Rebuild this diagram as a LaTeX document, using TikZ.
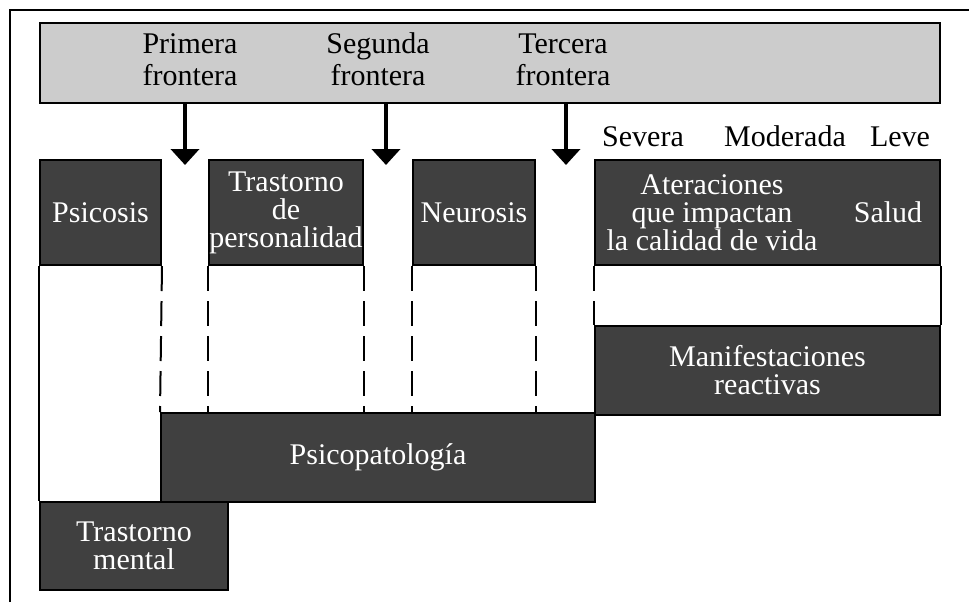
\documentclass[tikz,border=0pt]{standalone}
\usepackage{fontspec}
\setmainfont{Liberation Serif}
\usepackage{tikz}
\usetikzlibrary{arrows.meta}
\definecolor{darkfill}{HTML}{404040}
\definecolor{lightfill}{HTML}{CCCCCC}
\tikzstyle{darkbox} = [draw=black, fill=darkfill, text=white, line width=1pt,
    rectangle, align=center, inner sep=0pt, font=\fontsize{15}{14}\selectfont]
\tikzstyle{headbox} = [draw=black, fill=lightfill, line width=1pt,
    rectangle, inner sep=0pt]
\tikzstyle{headtext} = [align=center, inner sep=0pt, font=\fontsize{15}{16}\selectfont]
\tikzstyle{gradetext} = [inner sep=0pt, anchor=base, font=\fontsize{15}{16}\selectfont]
\tikzstyle{boxtext} = [text=white, align=center, inner sep=0pt, font=\fontsize{15}{14}\selectfont]
\tikzstyle{border} = [line width=1pt, dash pattern=on 12.5pt off 5pt]
\tikzstyle{solidline} = [line width=1pt]
\tikzstyle{downarrow} = [line width=2pt, -{Triangle[width=14pt,length=8pt]}]

\begin{document}
\begin{tikzpicture}[x=0.5pt, y=-0.5pt]
    \useasboundingbox (0,0) rectangle (969,602);
    \draw[line width=1pt] (10,602) -- (10,10) -- (969,10);

    % top band
    \node[headbox, minimum width=450pt, minimum height=40pt] (top) at (490,63) {};
    \node[headtext] (primera) at (190,60) {Primera\\frontera};
    \node[headtext] (segunda) at (378,59) {Segunda\\frontera};
    \node[headtext] (tercera) at (563,60) {Tercera\\frontera};
    \coordinate (f1) at (185,165);
    \coordinate (f2) at (386,165);
    \coordinate (f3) at (566,165);
    \draw[downarrow] (top.south -| f1) -- (f1);
    \draw[downarrow] (top.south -| f2) -- (f2);
    \draw[downarrow] (top.south -| f3) -- (f3);

    % grades
    \node[gradetext] (severa) at (643,146) {Severa};
    \node[gradetext] (moderada) at (785,146) {Moderada};
    \node[gradetext] (leve) at (900,146) {Leve};

    % upper row
    \node[darkbox, minimum width=60.5pt, minimum height=52.5pt] (psicosis) at (100.5,212.5) {Psicosis};
    \node[darkbox, minimum width=77pt, minimum height=52.5pt] (personalidad) at (286,212.5) {Trastorno\\de\\personalidad};
    \node[darkbox, minimum width=61pt, minimum height=52.5pt] (neurosis) at (474,212.5) {Neurosis};
    \node[darkbox, minimum width=172.5pt, minimum height=52.5pt] (impacto) at (767.5,212.5) {};
    \node[boxtext] (vida) at (712,213) {Ateraciones\\que impactan\\la calidad de vida};
    \node[boxtext] (salud) at (888,212) {Salud};

    % lower rows
    \node[darkbox, minimum width=172.5pt, minimum height=44.5pt] (reactivas) at (767.5,370.5) {Manifestaciones\\reactivas};
    \node[darkbox, minimum width=217pt, minimum height=44.5pt] (patologia) at (378,457.5) {Psicopatología};
    \node[darkbox, minimum width=94pt, minimum height=44pt] (mental) at (134,546) {Trastorno\\mental};

    % limits
    \draw[solidline] (psicosis.south west) -- (mental.north west);
    \draw[border] (psicosis.south east) -- (patologia.north west);
    \draw[border] (personalidad.south west) -- (personalidad.south west |- patologia.north);
    \draw[border] (personalidad.south east) -- (personalidad.south east |- patologia.north);
    \draw[border] (neurosis.south west) -- (neurosis.south west |- patologia.north);
    \draw[border] (neurosis.south east) -- (neurosis.south east |- patologia.north);
    \draw[border] (impacto.south west) -- (reactivas.north west);
    \draw[solidline] (impacto.south east) -- (reactivas.north east);
\end{tikzpicture}
\end{document}
